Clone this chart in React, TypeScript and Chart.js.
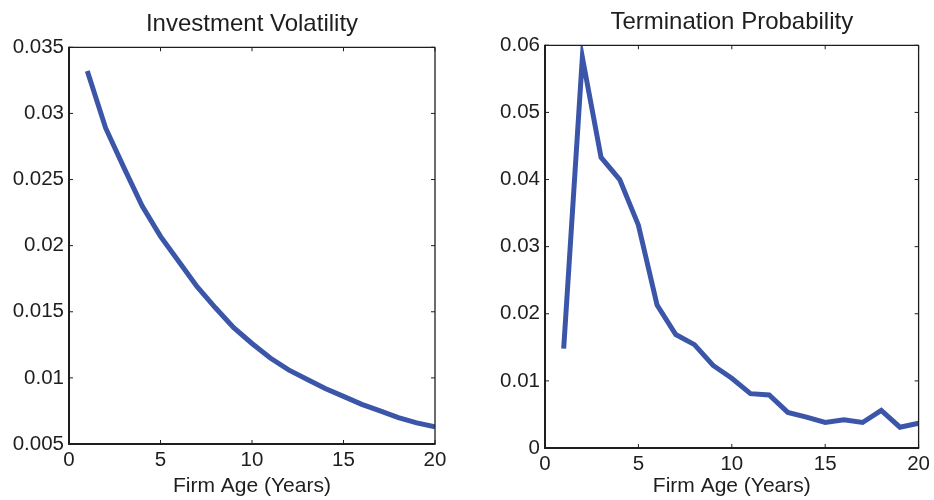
import React, { useEffect, useRef } from 'react';
import { Chart, registerables } from 'chart.js';

Chart.register(...registerables);

const ages = [1, 2, 3, 4, 5, 6, 7, 8, 9, 10, 11, 12, 13, 14, 15, 16, 17, 18, 19, 20];
const volatility = [0.0332, 0.0289, 0.0259, 0.0230, 0.0207, 0.0188, 0.0169, 0.0153, 0.0138, 0.0126, 0.0115, 0.0106, 0.0099, 0.0092, 0.0086, 0.0080, 0.0075, 0.0070, 0.0066, 0.0063];
const termination = [0.0148, 0.0582, 0.0433, 0.0400, 0.0332, 0.0213, 0.0169, 0.0154, 0.0123, 0.0104, 0.0081, 0.0079, 0.0053, 0.0046, 0.0038, 0.0042, 0.0038, 0.0056, 0.0031, 0.0037];
const xTicks = [0, 5, 10, 15, 20];
const volTicks = [0.005, 0.01, 0.015, 0.02, 0.025, 0.03, 0.035];
const termTicks = [0, 0.01, 0.02, 0.03, 0.04, 0.05, 0.06];

const FONT = '"Liberation Sans", Arial, Helvetica, sans-serif';
const TEXT = '#1e1e1e';
const LINE = '#3b56a8';

const framePlugin = {
  id: 'frame',
  afterDraw(chart: any) {
    const { ctx, chartArea } = chart;
    const { left, right, top, bottom } = chartArea;
    const xs = chart.scales.x;
    const ys = chart.scales.y;
    const L = 4;
    ctx.save();
    ctx.strokeStyle = TEXT;
    const seg = (x1: number, y1: number, x2: number, y2: number, w: number) => {
      ctx.lineWidth = w;
      ctx.beginPath();
      ctx.moveTo(x1, y1);
      ctx.lineTo(x2, y2);
      ctx.stroke();
    };
    seg(left, top, right, top, 1.3);
    seg(right, top, right, bottom, 1.3);
    seg(left, bottom + 1, left, top - 0.6, 2);
    seg(left - 1, bottom, right + 0.6, bottom, 2);
    xs.ticks.forEach((t: any) => {
      const px = xs.getPixelForValue(t.value);
      seg(px, bottom, px, bottom - L, 1);
      seg(px, top, px, top + L, 1);
    });
    ys.ticks.forEach((t: any) => {
      const py = ys.getPixelForValue(t.value);
      seg(left, py, left + L, py, 1);
      seg(right, py, right - L, py, 1);
    });
    ctx.restore();
  },
};

type PanelProps = {
  title: string;
  values: number[];
  yTicks: number[];
  yWidth: number;
  xHeight: number;
  padRight: number;
  titleTop: number;
  titleBottom: number;
  left: number;
};

function Panel(p: PanelProps) {
  const ref = useRef<HTMLCanvasElement | null>(null);
  useEffect(() => {
    if (!ref.current) return;
    const chart = new Chart(ref.current, {
      type: 'line',
      data: {
        datasets: [
          {
            data: ages.map((a, i) => ({ x: a, y: p.values[i] })),
            borderColor: LINE,
            borderWidth: 5,
            pointRadius: 0,
            tension: 0,
            fill: false,
            borderCapStyle: 'butt',
            borderJoinStyle: 'miter',
          },
        ],
      },
      options: {
        animation: false,
        responsive: false,
        maintainAspectRatio: false,
        layout: { padding: { left: 0, right: p.padRight, top: 0, bottom: 0 } },
        plugins: {
          legend: { display: false },
          tooltip: { enabled: false },
          title: {
            display: true,
            text: p.title,
            fullSize: false,
            color: TEXT,
            font: { family: FONT, size: 24, weight: 'normal' },
            padding: { top: p.titleTop, bottom: p.titleBottom },
          },
        },
        scales: {
          x: {
            type: 'linear',
            min: 0,
            max: 20,
            afterBuildTicks: (s: any) => {
              s.ticks = xTicks.map((v) => ({ value: v }));
            },
            afterFit: (s: any) => {
              s.height = p.xHeight;
            },
            grid: { display: false, drawTicks: false },
            border: { display: false },
            ticks: {
              color: TEXT,
              font: { family: FONT, size: 20.5 },
              padding: 4,
              maxRotation: 0,
              autoSkip: false,
              callback: (v: any) => String(v),
            },
            title: {
              display: true,
              text: 'Firm Age (Years)',
              color: TEXT,
              font: { family: FONT, size: 21 },
              padding: { top: 0, bottom: 1 },
            },
          },
          y: {
            type: 'linear',
            min: p.yTicks[0],
            max: p.yTicks[p.yTicks.length - 1],
            afterBuildTicks: (s: any) => {
              s.ticks = p.yTicks.map((v) => ({ value: v }));
            },
            afterFit: (s: any) => {
              s.width = p.yWidth;
            },
            grid: { display: false, drawTicks: false },
            border: { display: false },
            ticks: {
              color: TEXT,
              font: { family: FONT, size: 20.5 },
              padding: 5,
              autoSkip: false,
              callback: (v: any) => String(Number(Number(v).toFixed(4))),
            },
          },
        },
      },
      plugins: [framePlugin],
    } as any);
    return () => chart.destroy();
  }, []);
  return (
    <canvas
      ref={ref}
      width={467}
      height={500}
      style={{ position: 'absolute', left: p.left, top: 0, width: 467, height: 500 }}
    />
  );
}

export default function App() {
  return (
    <div style={{ position: 'absolute', left: 0, top: 0, width: 934, height: 500, background: '#fff' }}>
      <Panel
        title="Investment Volatility"
        values={volatility}
        yTicks={volTicks}
        yWidth={69}
        xHeight={56}
        padRight={32}
        titleTop={10}
        titleBottom={8.5}
        left={0}
      />
      <Panel
        title="Termination Probability"
        values={termination}
        yTicks={termTicks}
        yWidth={78}
        xHeight={52}
        padRight={12}
        titleTop={8}
        titleBottom={8.5}
        left={467}
      />
    </div>
  );
}
